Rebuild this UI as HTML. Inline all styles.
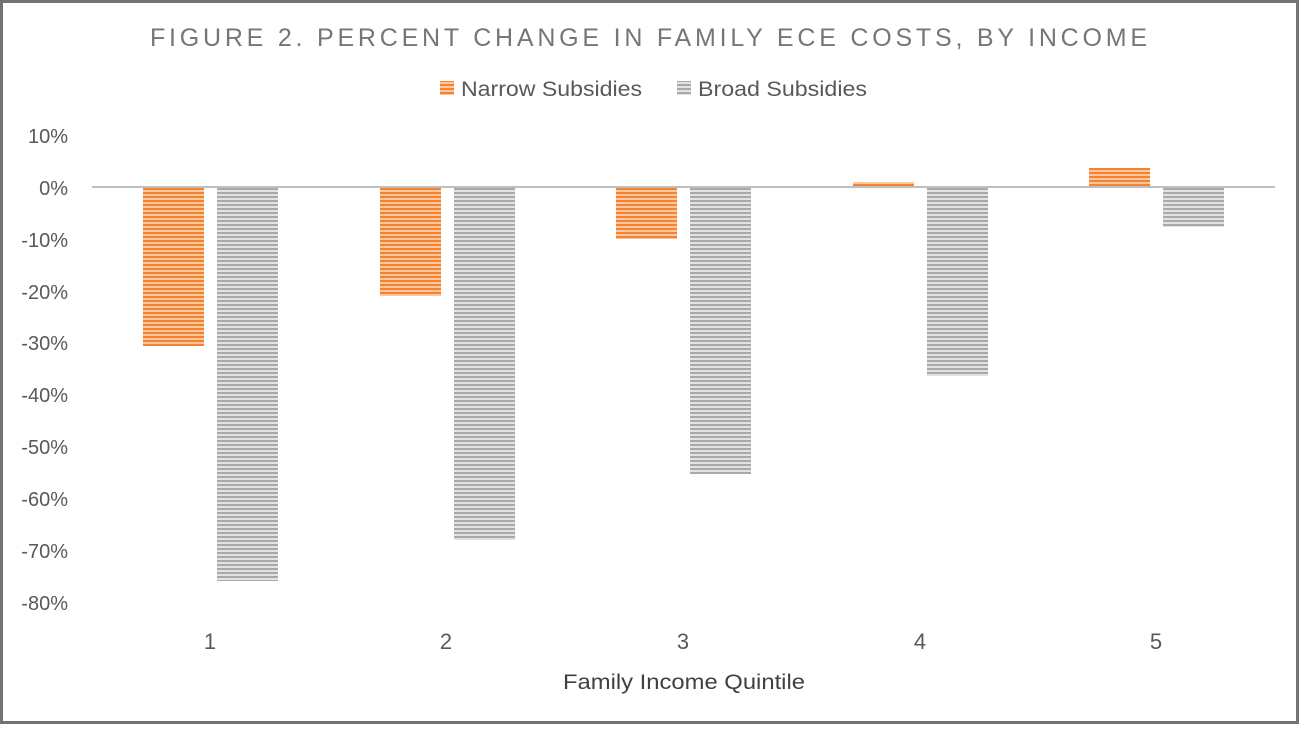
<!DOCTYPE html>
<html><head><meta charset="utf-8"><style>
body{margin:0;background:#fff}
svg text{font-family:"Liberation Sans",sans-serif}
</style></head><body>
<svg width="1299" height="724" xmlns="http://www.w3.org/2000/svg">
<defs>
<pattern id="po" width="8" height="4" patternUnits="userSpaceOnUse"><rect width="8" height="4" fill="#fbc7a0"/><rect width="8" height="2" fill="#f4822f"/></pattern>
<pattern id="pg" width="8" height="4" patternUnits="userSpaceOnUse"><rect width="8" height="4" fill="#e2e2e2"/><rect width="8" height="2" fill="#a9a9a9"/></pattern>
</defs>
<rect x="0" y="0" width="1299" height="724" fill="#fff"/>
<rect x="1.5" y="1.5" width="1296" height="721" fill="none" stroke="#767171" stroke-width="3"/>
<text x="150" y="46" font-size="25" fill="#767676" textLength="997" lengthAdjust="spacing">FIGURE 2. PERCENT CHANGE IN FAMILY ECE COSTS, BY INCOME</text>
<rect x="440" y="81" width="14" height="14" fill="url(#po)"/>
<text x="461" y="96" font-size="21" fill="#595959" textLength="181" lengthAdjust="spacingAndGlyphs">Narrow Subsidies</text>
<rect x="677" y="81" width="14" height="14" fill="url(#pg)"/>
<text x="698" y="96" font-size="21" fill="#595959" textLength="169" lengthAdjust="spacingAndGlyphs">Broad Subsidies</text>
<g font-size="20" fill="#595959" text-anchor="end">
<text x="68" y="143">10%</text><text x="68" y="195">0%</text><text x="68" y="247">-10%</text><text x="68" y="299">-20%</text><text x="68" y="350">-30%</text><text x="68" y="402">-40%</text><text x="68" y="454">-50%</text><text x="68" y="506">-60%</text><text x="68" y="558">-70%</text><text x="68" y="610">-80%</text>
</g>
<g fill="url(#po)">
<rect x="143" y="188" width="61" height="158"/>
<rect x="380" y="188" width="61" height="108"/>
<rect x="616" y="188" width="61" height="51"/>
<rect x="853" y="182" width="61" height="6"/>
<rect x="1089" y="168" width="61" height="20"/>
</g>
<g fill="url(#pg)">
<rect x="217" y="188" width="61" height="393"/>
<rect x="454" y="188" width="61" height="352"/>
<rect x="690" y="188" width="61" height="286"/>
<rect x="927" y="188" width="61" height="188"/>
<rect x="1163" y="188" width="61" height="39"/>
</g>
<line x1="92" y1="187" x2="1275" y2="187" stroke="#bfbfbf" stroke-width="2"/>
<g font-size="22" fill="#595959" text-anchor="middle">
<text x="210" y="649">1</text><text x="446" y="649">2</text><text x="683" y="649">3</text><text x="920" y="649">4</text><text x="1156" y="649">5</text>
</g>
<text x="563" y="689" font-size="21" fill="#404040" textLength="242" lengthAdjust="spacingAndGlyphs">Family Income Quintile</text>
</svg>
</body></html>
